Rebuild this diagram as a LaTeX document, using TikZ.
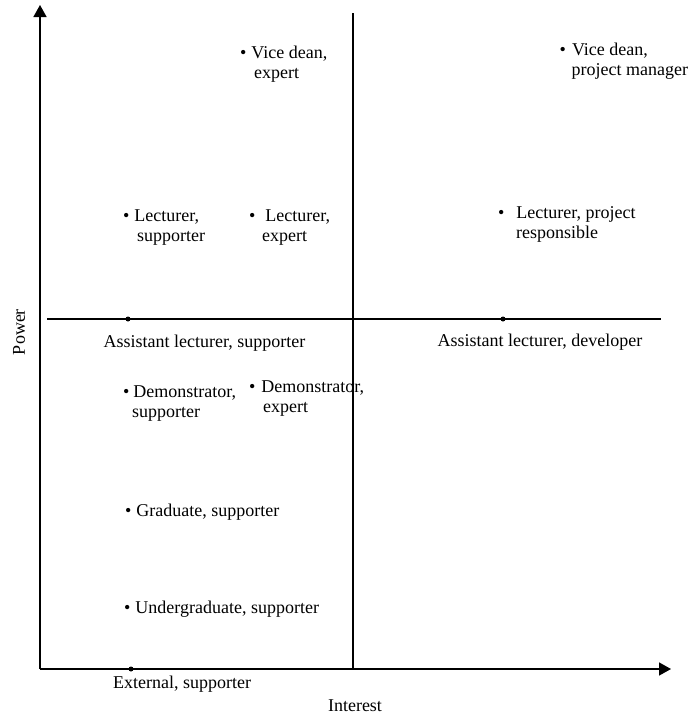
\documentclass[tikz,border=0pt]{standalone}
\usepackage{fontspec}
\setmainfont{Liberation Serif}
\usetikzlibrary{arrows.meta}
\newcommand\bl[2]{\textbullet\hspace{#1pt}#2}
\newcommand\ind[2]{\hspace*{#1pt}#2}
\begin{document}
\begin{tikzpicture}[x=1pt,y=-1pt,
  font=\fontsize{18}{20}\selectfont,
  axis/.style={line width=1.6pt,-{Triangle[width=13pt,length=12pt]}},
  midline/.style={line width=1.4pt},
  lbl/.style={anchor=base west,inner sep=0pt,align=left},
  clbl/.style={anchor=base,inner sep=0pt},
  pt/.style={circle,fill=black,inner sep=0pt,minimum size=5pt}]
\useasboundingbox (0,0) rectangle (691,715);
% axes
\coordinate (O) at (40,669);
\coordinate (ytop) at (40,5);
\coordinate (xend) at (671,669);
\draw[axis] (O) -- (ytop);
\draw[axis] (O) -- (xend);
% quadrant lines
\coordinate (hl) at (47,319);
\coordinate (hr) at (661,319);
\coordinate (vt) at (353,13);
\coordinate (vb) at (353,669);
\draw[midline] (hl) -- (hr);
\draw[midline] (vt) -- (vb);
% dots on lines
\node[pt] (d1) at (128,319) {};
\node[pt] (d2) at (503,319) {};
\node[pt] (d3) at (131,669) {};
% axis labels
\node[rotate=90,inner sep=0pt] (power) at (19,332) {Power};
\node[clbl] (interest) at (355,711) {Interest};
% labels on lines
\node[clbl] (als) at (204.5,347) {Assistant lecturer, supporter};
\node[clbl] (ald) at (540,346) {Assistant lecturer, developer};
\node[clbl] (ext) at (182,688) {External, supporter};
% bullet labels (base = last line baseline)
\node[lbl] (vde) at (239.9,78) {\bl{5}{Vice dean,}\\\ind{14}{expert}};
\node[lbl] (vdpm) at (559.5,75) {\bl{6}{Vice dean,}\\\ind{12}{project manager}};
\node[lbl] (ls) at (122.9,241) {\bl{5}{Lecturer,}\\\ind{14}{supporter}};
\node[lbl] (le) at (248.9,241) {\bl{10}{Lecturer,}\\\ind{13}{expert}};
\node[lbl] (lpr) at (497.9,238) {\bl{12}{Lecturer, project}\\\ind{18}{responsible}};
\node[lbl] (ds) at (122.9,417) {\bl{4}{Demonstrator,}\\\ind{9}{supporter}};
\node[lbl] (de) at (248.9,412) {\bl{6}{Demonstrator,}\\\ind{14}{expert}};
\node[lbl] (gs) at (124.9,516) {\bl{5}{Graduate, supporter}};
\node[lbl] (us) at (123.9,613) {\bl{5}{Undergraduate, supporter}};
\end{tikzpicture}
\end{document}
